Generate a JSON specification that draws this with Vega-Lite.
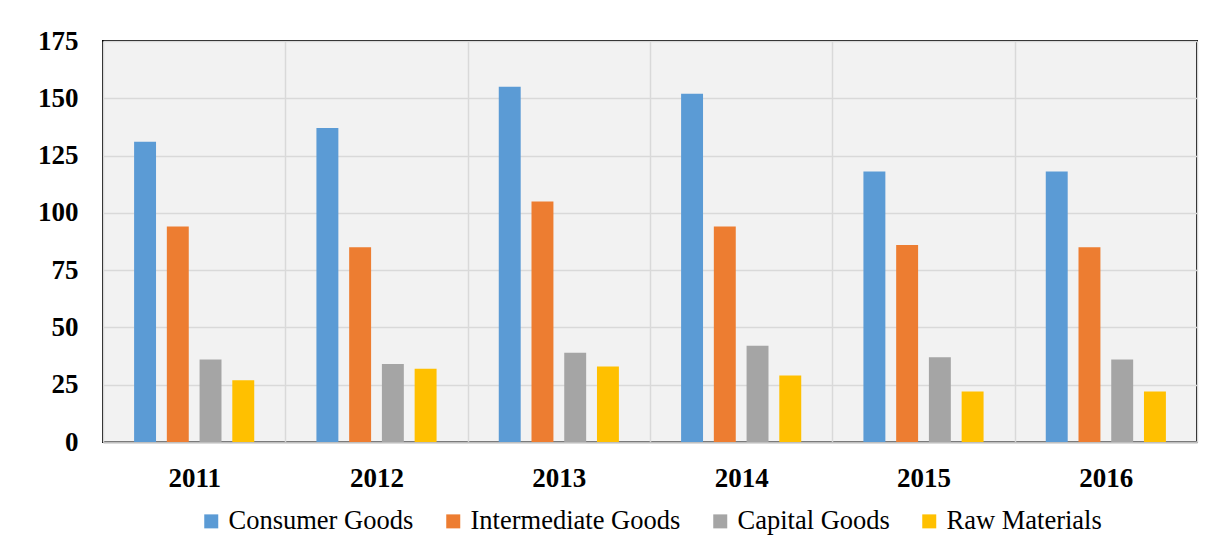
{
  "$schema": "https://vega.github.io/schema/vega-lite/v6.json",
  "width": 1094,
  "height": 401,
  "autosize": {"type": "none"},
  "padding": {"left": 103, "top": 41, "right": 8, "bottom": 110},
  "background": "#ffffff",
  "data": {
    "values": [
      {"year": "2011", "cat": "Consumer Goods", "v": 131},
      {"year": "2011", "cat": "Intermediate Goods", "v": 94},
      {"year": "2011", "cat": "Capital Goods", "v": 36},
      {"year": "2011", "cat": "Raw Materials", "v": 27},
      {"year": "2012", "cat": "Consumer Goods", "v": 137},
      {"year": "2012", "cat": "Intermediate Goods", "v": 85},
      {"year": "2012", "cat": "Capital Goods", "v": 34},
      {"year": "2012", "cat": "Raw Materials", "v": 32},
      {"year": "2013", "cat": "Consumer Goods", "v": 155},
      {"year": "2013", "cat": "Intermediate Goods", "v": 105},
      {"year": "2013", "cat": "Capital Goods", "v": 39},
      {"year": "2013", "cat": "Raw Materials", "v": 33},
      {"year": "2014", "cat": "Consumer Goods", "v": 152},
      {"year": "2014", "cat": "Intermediate Goods", "v": 94},
      {"year": "2014", "cat": "Capital Goods", "v": 42},
      {"year": "2014", "cat": "Raw Materials", "v": 29},
      {"year": "2015", "cat": "Consumer Goods", "v": 118},
      {"year": "2015", "cat": "Intermediate Goods", "v": 86},
      {"year": "2015", "cat": "Capital Goods", "v": 37},
      {"year": "2015", "cat": "Raw Materials", "v": 22},
      {"year": "2016", "cat": "Consumer Goods", "v": 118},
      {"year": "2016", "cat": "Intermediate Goods", "v": 85},
      {"year": "2016", "cat": "Capital Goods", "v": 36},
      {"year": "2016", "cat": "Raw Materials", "v": 22}
    ]
  },
  "mark": {"type": "bar"},
  "encoding": {
    "x": {
      "field": "year",
      "type": "nominal",
      "scale": {"paddingInner": 0, "paddingOuter": 0},
      "axis": {
        "title": null,
        "labelAngle": 0,
        "labelFont": "Liberation Serif",
        "labelFontSize": 27,
        "labelFontWeight": "bold",
        "labelColor": "#000000",
        "labelPadding": 23,
        "ticks": false,
        "tickBand": "extent",
        "grid": true,
        "gridColor": "#d9d9d9",
        "gridWidth": 1.5,
        "domain": true,
        "domainColor": "#bfbfbf",
        "domainWidth": 2
      }
    },
    "xOffset": {
      "field": "cat",
      "type": "nominal",
      "sort": ["Consumer Goods", "Intermediate Goods", "Capital Goods", "Raw Materials"],
      "scale": {"paddingInner": 0.33, "paddingOuter": 0.95}
    },
    "y": {
      "field": "v",
      "type": "quantitative",
      "scale": {"domain": [0, 175], "nice": false},
      "axis": {
        "title": null,
        "values": [0, 25, 50, 75, 100, 125, 150, 175],
        "labelFont": "Liberation Serif",
        "labelFontSize": 27,
        "labelFontWeight": "bold",
        "labelColor": "#000000",
        "labelPadding": 25,
        "ticks": false,
        "domain": false,
        "grid": true,
        "gridColor": "#d9d9d9",
        "gridWidth": 1.5
      }
    },
    "color": {
      "field": "cat",
      "type": "nominal",
      "sort": ["Consumer Goods", "Intermediate Goods", "Capital Goods", "Raw Materials"],
      "scale": {
        "domain": ["Consumer Goods", "Intermediate Goods", "Capital Goods", "Raw Materials"],
        "range": ["#5b9bd5", "#ed7d31", "#a5a5a5", "#ffc000"]
      },
      "legend": {
        "title": null,
        "orient": "bottom",
        "direction": "horizontal",
        "symbolType": "square",
        "symbolSize": 196,
        "symbolStrokeWidth": 0,
        "labelFont": "Liberation Serif",
        "labelFontSize": 26.5,
        "labelLimit": 0,
        "labelColor": "#000000",
        "labelOffset": 4,
        "columnPadding": 26,
        "offset": 17
      }
    }
  },
  "config": {
    "view": {"fill": "#f2f2f2", "stroke": "#000000", "strokeWidth": 2},
    "legend": {"layout": {"bottom": {"anchor": "middle"}}}
  }
}
